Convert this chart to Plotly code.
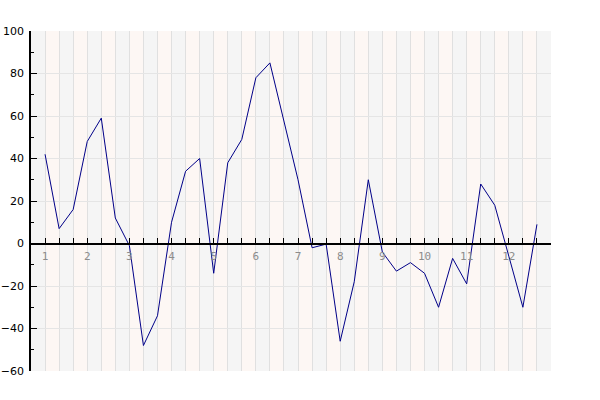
import plotly.graph_objects as go

# Data
x_index = list(range(1, 37))
values = [42, 7, 16, 48, 59, 12, -1, -48, -34, 10, 34, 40,
          -14, 38, 49, 78, 85, 58, 30, -2, -0.3, -46, -18, 30,
          -4, -13, -9, -14, -30, -7, -19, 28, 18, -6, -30, 9]
month_labels = ["1", "2", "3", "4", "5", "6", "7", "8", "9", "10", "11", "12"]
label_positions = [1, 4, 7, 10, 13, 16, 19, 22, 25, 28, 31, 34]

x_max = 37
grid_vals = list(range(0, x_max + 1))
tick_text = []
for v in grid_vals:
    if v in label_positions:
        tick_text.append(month_labels[label_positions.index(v)])
    else:
        tick_text.append("")

fig = go.Figure()
fig.add_trace(go.Scatter(x=x_index, y=values, mode="lines",
                         line=dict(color="#000088", width=1),
                         hoverinfo="skip", showlegend=False))

# alternating vertical bands
shapes = []
for i in range(0, x_max):
    if i % 2 == 1:
        shapes.append(dict(type="rect", xref="x", yref="paper",
                           x0=i, x1=i + 1, y0=0, y1=1,
                           fillcolor="#fdf7f4", line=dict(width=0),
                           layer="below"))

zero_pos = (0 - (-60)) / (100 - (-60))

fig.update_layout(
    width=600, height=400,
    margin=dict(l=31, r=49, t=31, b=29, autoexpand=False),
    paper_bgcolor="white",
    plot_bgcolor="#f5f5f5",
    shapes=shapes,
    xaxis=dict(range=[0, x_max], tickmode="array", tickvals=grid_vals,
               ticktext=tick_text, showgrid=True, gridcolor="#e0e0e0",
               gridwidth=1, ticks="inside", ticklen=5, tickcolor="black",
               tickwidth=1, showline=True, linecolor="black", linewidth=1.5,
               anchor="free", position=zero_pos, zeroline=False,
               automargin=False,
               tickfont=dict(family="DejaVu Sans Mono", size=11, color="#8c8c8c"),
               ticklabelstandoff=3),
    yaxis=dict(range=[-60, 100], tickmode="linear", tick0=-60, dtick=20,
               showgrid=True, gridcolor="#e5e5e5", gridwidth=1,
               ticks="inside", ticklen=6, tickcolor="black", tickwidth=1,
               minor=dict(dtick=10, tick0=-60, ticks="inside", ticklen=3,
                          tickcolor="black", showgrid=False),
               showline=True, linecolor="black", linewidth=1.5,
               zeroline=False, automargin=False, ticklabelstandoff=3,
               tickfont=dict(family="DejaVu Sans", size=11, color="black")),
)

fig.write_html("out.html", config={"displayModeBar": False},
               post_script="document.body.style.margin='0';")
